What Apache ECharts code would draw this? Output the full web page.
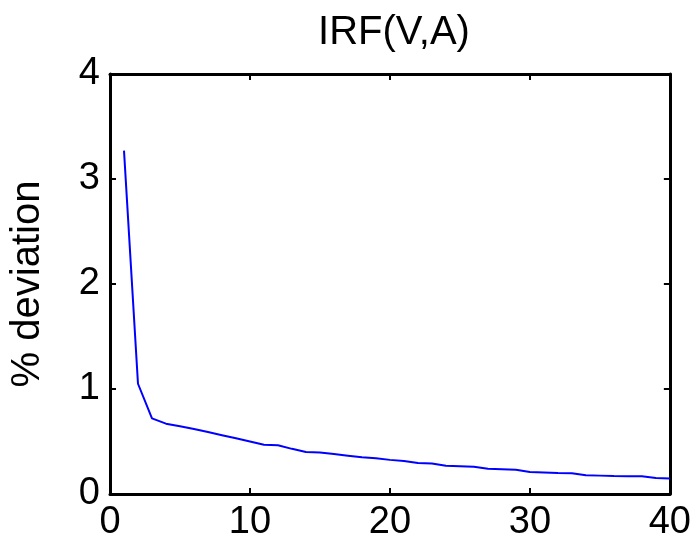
<!DOCTYPE html>
<html>
<head>
<meta charset="utf-8">
<script src="https://cdn.jsdelivr.net/npm/echarts@6/dist/echarts.min.js"></script>
<style>html,body{margin:0;padding:0;background:#fff}#c{width:694px;height:544px}</style>
</head>
<body>
<div id="c"></div>
<script>
const periods = [1,2,3,4,5,6,7,8,9,10,11,12,13,14,15,16,17,18,19,20,21,22,23,24,25,26,27,28,29,30,31,32,33,34,35,36,37,38,39,40];
const irfValues = [3.27,1.05,0.72,0.67,0.645,0.62,0.59,0.56,0.53,0.50,0.47,0.465,0.43,0.40,0.395,0.38,0.365,0.35,0.34,0.325,0.315,0.295,0.29,0.27,0.265,0.26,0.24,0.235,0.23,0.21,0.205,0.2,0.198,0.178,0.175,0.172,0.17,0.168,0.152,0.148];
const xTicks = [0,10,20,30,40];
const yTicks = [0,1,2,3,4];
const titleText = 'IRF(V,A)';
const yName = '% deviation';

const FONT = '"Liberation Sans", Arial, sans-serif';
const chart = echarts.init(document.getElementById('c'), null, {renderer: 'canvas'});
const axisLineStyle = {color: '#000', width: 3};
const tickStyle = {show: true, inside: true, length: 6, lineStyle: {color: '#000', width: 2}};
chart.setOption({
  animation: false,
  backgroundColor: '#fff',
  title: {
    text: titleText, left: 389, top: 8, textAlign: 'center',
    textStyle: {fontFamily: FONT, fontSize: 40, fontWeight: 'normal', color: '#000'}
  },
  grid: {left: 108, right: 23, top: 74, bottom: 50, containLabel: false},
  xAxis: [{
    type: 'value', min: xTicks[0], max: xTicks[xTicks.length-1], interval: 10,
    axisLine: {show: true, onZero: false, lineStyle: axisLineStyle}, axisTick: tickStyle,
    splitLine: {show: false},
    axisLabel: {fontFamily: FONT, fontSize: 38, color: '#000', margin: 10}
  }, {
    type: 'value', position: 'top', min: xTicks[0], max: xTicks[xTicks.length-1], interval: 10,
    axisLine: {show: true, onZero: false, lineStyle: axisLineStyle}, axisTick: tickStyle,
    splitLine: {show: false}, axisLabel: {show: false}
  }],
  yAxis: [{
    type: 'value', min: yTicks[0], max: yTicks[yTicks.length-1], interval: 1,
    name: yName, nameLocation: 'middle', nameGap: 62, nameRotate: 90,
    nameTextStyle: {fontFamily: FONT, fontSize: 40, color: '#000'},
    axisLine: {show: true, onZero: false, lineStyle: axisLineStyle}, axisTick: tickStyle,
    splitLine: {show: false},
    axisLabel: {fontFamily: FONT, fontSize: 38, color: '#000', margin: 10}
  }, {
    type: 'value', position: 'right', min: yTicks[0], max: yTicks[yTicks.length-1], interval: 1,
    axisLine: {show: true, onZero: false, lineStyle: axisLineStyle}, axisTick: tickStyle,
    splitLine: {show: false}, axisLabel: {show: false}
  }],
  series: [{
    type: 'line', xAxisIndex: 0, yAxisIndex: 0,
    data: periods.map((p, i) => [p, irfValues[i]]),
    showSymbol: false, symbol: 'none',
    lineStyle: {color: '#0000ff', width: 2}
  }]
});
</script>
</body>
</html>
